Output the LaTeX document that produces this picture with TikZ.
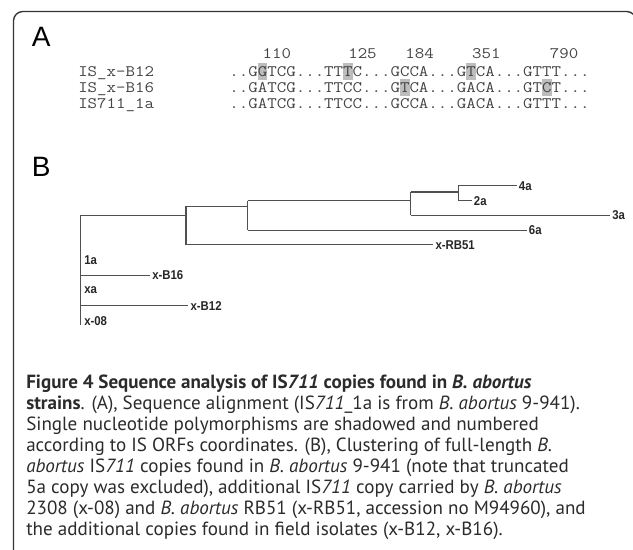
\documentclass[tikz,border=0pt]{standalone}
\usepackage{fontspec}
\setmainfont{Liberation Sans}
\newfontfamily\capfont{PT Sans}
\newfontfamily\seqfont[FakeStretch=1.15]{Latin Modern Mono}
\newfontfamily\treefont[FakeStretch=0.89]{Liberation Sans}
\definecolor{framegray}{HTML}{333333}
\definecolor{seqgray}{HTML}{444444}
\definecolor{snpgray}{HTML}{BDBDBD}
\definecolor{treegray}{HTML}{505050}
\definecolor{capblack}{HTML}{2B2B2B}
\newcommand{\snp}[1]{{\setlength{\fboxsep}{0pt}\colorbox{snpgray}{\rule[-2.5pt]{0pt}{12.5pt}#1}}}
\tikzset{
  panel/.style={font=\fontsize{21}{21}\selectfont, inner sep=0pt, anchor=base west},
  seqtext/.style={font=\seqfont\fontsize{12}{12}\selectfont, text=seqgray, inner sep=0pt, anchor=base west},
  leaf/.style={font=\treefont\bfseries\fontsize{9.6}{9.6}\selectfont, text=black!85, inner sep=1.5pt, anchor=west},
  branch/.style={treegray, line width=0.8pt},
  capstyle/.style={font=\capfont\fontsize{14.3}{15.7}\selectfont, text=capblack, align=left, inner sep=0pt, anchor=north west},
}
\begin{document}
\begin{tikzpicture}[x=0.75pt, y=-0.75pt]
  \useasboundingbox (0,0) rectangle (633,550);
  \clip (0,0) rectangle (633,550);

  % Frame
  \draw[framegray, line width=1pt, rounded corners=7pt] (13.5,11.5) rectangle (636,562);

  % Panel A: alignment
  \node[panel] (panelA) at (31.5,46) {A};
  \foreach \pos/\x in {110/276.9, 125/362.5, 184/419.7, 351/486.4, 790/564.2}
    \node[seqtext, anchor=base] (n\pos) at (\x,58.2) {\pos};
  \foreach \id/\lbl/\seq/\y in {
      b12/{IS\_x-B12}/{..G\snp{G}TCG...TT\snp{T}C...GCCA...G\snp{T}CA...GTTT...}/76.6,
      b16/{IS\_x-B16}/{..GATCG...TTCC...G\snp{T}CA...GACA...GT\snp{C}T...}/92.6,
      ref/{IS711\_1a}/{..GATCG...TTCC...GCCA...GACA...GTTT...}/108.2} {
    \node[seqtext] (lab\id) at (78,\y) {\lbl};
    \node[seqtext] (seq\id) at (229.2,\y) {\seq};
  }

  % Panel B: clustering
  \node[panel] (panelB) at (31.5,176) {B};
  \coordinate (rootT) at (80.7,215.3);
  \coordinate (rootB) at (80.7,325);
  \coordinate (Atop) at (186,206.3);
  \coordinate (Abot) at (186,244.7);
  \coordinate (Btop) at (247.7,200.7);
  \coordinate (Bbot) at (247.7,230.3);
  \coordinate (Ctop) at (410.7,192);
  \coordinate (Cbot) at (410.7,215.3);
  \coordinate (Dtop) at (458.3,185.7);
  \coordinate (Dbot) at (458.3,200.7);
  \foreach \id/\lbl/\x/\y in {l4a/4a/516.7/185.7, l2a/2a/471.7/200.7, l3a/3a/610/215.3,
      l6a/6a/526.7/230.3, lRB51/x-RB51/433.3/244.7, l1a/1a/82/260.3, lB16/x-B16/150/275.3,
      lxa/xa/82/290.3, lB12/x-B12/188.3/305.7, l08/x-08/82/321}
    \node[leaf] (\id) at (\x,\y) {\lbl};

  \draw[branch] (rootT) -- (rootB);
  \draw[branch] (rootT) -- (rootT -| Atop);
  \draw[branch] (Atop) -- (Abot);
  \draw[branch] (Atop) -- (Atop -| Btop);
  \draw[branch] (Abot) -- (lRB51.west);
  \draw[branch] (Btop) -- (Bbot);
  \draw[branch] (Btop) -- (Btop -| Ctop);
  \draw[branch] (Bbot) -- (l6a.west);
  \draw[branch] (Ctop) -- (Cbot);
  \draw[branch] (Ctop) -- (Ctop -| Dtop);
  \draw[branch] (Cbot) -- (l3a.west);
  \draw[branch] (Dtop) -- (Dbot);
  \draw[branch] (Dtop) -- (l4a.west);
  \draw[branch] (Dbot) -- (l2a.west);
  \draw[branch] (lB16.west -| rootT) -- (lB16.west);
  \draw[branch] (lB12.west -| rootT) -- (lB12.west);

  % Caption
  \node[capstyle] (caption) at (26,375) {%
    \textbf{Figure 4 Sequence analysis of IS\textit{711} copies found in \textit{B. abortus}}\\
    \textbf{strains}. (A), Sequence alignment (IS\textit{711}\_1a is from \textit{B. abortus} 9-941).\\
    Single nucleotide polymorphisms are shadowed and numbered\\
    according to IS ORFs coordinates. (B), Clustering of full-length \textit{B.}\\
    \textit{abortus} IS\textit{711} copies found in \textit{B. abortus} 9-941 (note that truncated\\
    5a copy was excluded), additional IS\textit{711} copy carried by \textit{B. abortus}\\
    2308 (x-08) and \textit{B. abortus} RB51 (x-RB51, accession no M94960), and\\
    the additional copies found in field isolates (x-B12, x-B16).};
\end{tikzpicture}
\end{document}
